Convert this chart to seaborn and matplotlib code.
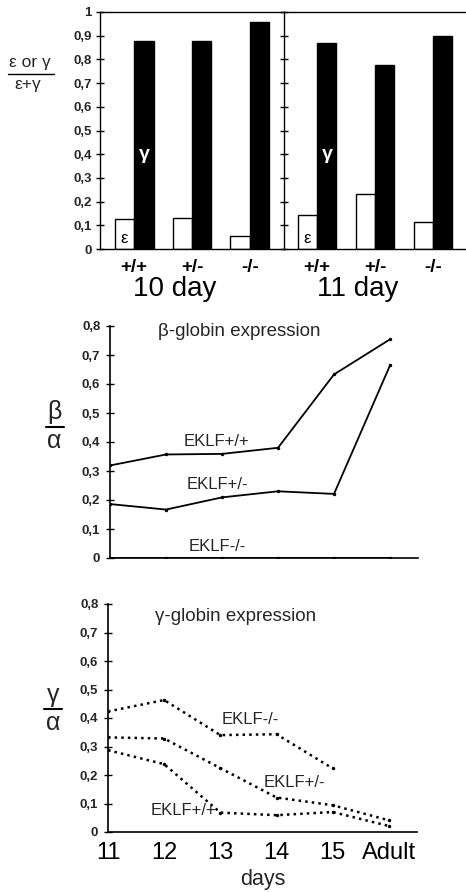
import numpy as np
import pandas as pd
import matplotlib
matplotlib.use("Agg")
import matplotlib.pyplot as plt
import seaborn as sns
from matplotlib.lines import Line2D

sns.set_theme(style="white")
plt.rcParams['font.family'] = ['Liberation Sans', 'DejaVu Sans']

# ---------------- data ----------------
genotypes = ["+/+", "+/-", "-/-"]
eps_10 = [0.127, 0.131, 0.055]
gam_10 = [0.877, 0.877, 0.958]
eps_11 = [0.144, 0.233, 0.114]
gam_11 = [0.869, 0.775, 0.898]

days = ["11", "12", "13", "14", "15", "Adult"]
beta_wt = [0.319, 0.357, 0.359, 0.380, 0.633, 0.754]
beta_het = [0.186, 0.167, 0.209, 0.230, 0.221, 0.664]
beta_ko = [0.0, 0.0, 0.0, 0.0, 0.0, 0.0]
gamma_ko = [0.423, 0.463, 0.340, 0.343, 0.223, np.nan]
gamma_het = [0.332, 0.328, 0.224, 0.121, 0.094, 0.041]
gamma_wt = [0.287, 0.238, 0.068, 0.059, 0.070, 0.021]

ytick_bar = [0, 0.1, 0.2, 0.3, 0.4, 0.5, 0.6, 0.7, 0.8, 0.9, 1.0]
ytick_bar_lbl = ["0", "0,1", "0,2", "0,3", "0,4", "0,5", "0,6", "0,7", "0,8", "0,9", "1"]
ytick_line = [0, 0.1, 0.2, 0.3, 0.4, 0.5, 0.6, 0.7, 0.8]
ytick_line_lbl = ["0", "0,1", "0,2", "0,3", "0,4", "0,5", "0,6", "0,7", "0,8"]

W, H = 466, 892
fig = plt.figure(figsize=(W / 100, H / 100), dpi=100)
fig.patch.set_facecolor("white")

def fr(x0, y_top, x1, y_bot):
    return [x0 / W, 1 - y_bot / H, (x1 - x0) / W, (y_bot - y_top) / H]

ax1 = fig.add_axes(fr(100, 12, 284, 249))
ax2 = fig.add_axes(fr(284, 12, 466, 249))

def bars(ax, eps, gam, xlim):
    df = pd.DataFrame({
        "genotype": genotypes * 2,
        "iso": ["e"] * 3 + ["g"] * 3,
        "val": list(eps) + list(gam),
    })
    sns.barplot(data=df, x="genotype", y="val", hue="iso", order=genotypes,
                hue_order=["e", "g"], palette={"e": "white", "g": "black"},
                edgecolor="black", linewidth=1.0, width=0.67, ax=ax,
                legend=False, saturation=1)
    ax.set_xlim(*xlim)
    ax.set_ylim(0, 1)
    ax.set_xlabel("")
    ax.set_ylabel("")
    for s in ["left", "top", "bottom"]:
        ax.spines[s].set_visible(True)
        ax.spines[s].set_color("black")
        ax.spines[s].set_linewidth(1.0)
    ax.spines["right"].set_visible(False)
    ax.set_yticks(ytick_bar)
    ax.tick_params(axis="y", left=True, direction="inout", length=6, width=1,
                   color="black", pad=3)
    ax.tick_params(axis="x", length=0, pad=7, colors="black")
    for lbl in ax.get_xticklabels():
        lbl.set_fontsize(13.5)
        lbl.set_fontweight("bold")
    ax.text(-0.17, 0.045, "ε", ha="center", va="center", fontsize=12, color="black")
    ax.text(0.17, 0.4, "γ", ha="center", va="center", fontsize=14,
            color="white", fontweight="bold")

bars(ax1, eps_10, gam_10, (-0.59, 2.59))
bars(ax2, eps_11, gam_11, (-0.57, 2.57))
ax1.set_yticklabels(ytick_bar_lbl, fontsize=9.5, fontweight="bold")
ax2.set_yticklabels([])
ax1.set_xlabel("10 day", fontsize=20, labelpad=0, color="black")
ax2.set_xlabel("11 day", fontsize=20, labelpad=0, color="black")
ax1.xaxis.set_label_coords((175 - 100) / 184, -(289 - 249) / 237, transform=ax1.transAxes)
ax2.xaxis.set_label_coords((358 - 284) / 182, -(289 - 249) / 237, transform=ax2.transAxes)
ax1.xaxis.label.set_va("center")
ax2.xaxis.label.set_va("center")

# fraction y-label for top panel
fig.text(30 / W, 1 - 63 / H, "ε or γ", ha="center", va="center", fontsize=12.5)
fig.add_artist(Line2D([8 / W, 54 / W], [1 - 74 / H, 1 - 74 / H], color="black", lw=1))
fig.text(28 / W, 1 - 84 / H, "ε+γ", ha="center", va="center", fontsize=12.5)

# ---------------- line panels ----------------
def line_panel(ax, series, style):
    for vals in series:
        df = pd.DataFrame({"day": days, "val": vals}).dropna()
        sns.lineplot(data=df, x="day", y="val", ax=ax, color="black",
                     linestyle=style, linewidth=1.3 if style == "-" else 1.8,
                     marker="o", markersize=2.5, markeredgewidth=0, sort=False)
    ax.set_xlim(0, 5.5)
    ax.set_ylim(0, 0.8)
    ax.set_xlabel("")
    ax.set_ylabel("")
    for s in ["left", "bottom"]:
        ax.spines[s].set_visible(True)
        ax.spines[s].set_color("black")
        ax.spines[s].set_linewidth(1.2)
    ax.spines["right"].set_visible(False)
    ax.spines["top"].set_visible(False)
    ax.set_yticks(ytick_line)
    ax.set_yticklabels(ytick_line_lbl, fontsize=9.5, fontweight="bold")
    ax.tick_params(axis="y", left=True, direction="inout", length=6, width=1,
                   color="black", pad=4)

ax3 = fig.add_axes(fr(110, 326, 418, 558))
line_panel(ax3, [beta_wt, beta_het, beta_ko], "-")
ax3.tick_params(axis="x", length=0, labelbottom=False)
ax3.text(2.3, 0.78, "β-globin expression", ha="center", va="center", fontsize=13.5)
ax3.text(1.91, 0.40, "EKLF+/+", ha="center", va="center", fontsize=12)
ax3.text(1.91, 0.255, "EKLF+/-", ha="center", va="center", fontsize=12)
ax3.text(1.91, 0.04, "EKLF-/-", ha="center", va="center", fontsize=12)
fig.text(54 / W, 1 - 412 / H, "β", ha="center", va="center", fontsize=18)
fig.add_artist(Line2D([46 / W, 64 / W], [1 - 427 / H, 1 - 427 / H], color="black", lw=1.5))
fig.text(54 / W, 1 - 441 / H, "α", ha="center", va="center", fontsize=18)

ax4 = fig.add_axes(fr(108, 604, 417, 832))
line_panel(ax4, [gamma_ko, gamma_het, gamma_wt], ":")
ax4.tick_params(axis="x", length=0, labelsize=17, pad=7, colors="black")
ax4.set_xlabel("days", fontsize=15.5, labelpad=4)
ax4.text(2.27, 0.755, "γ-globin expression", ha="center", va="center", fontsize=13.5)
ax4.text(2.54, 0.394, "EKLF-/-", ha="center", va="center", fontsize=12)
ax4.text(3.32, 0.172, "EKLF+/-", ha="center", va="center", fontsize=12)
ax4.text(1.34, 0.074, "EKLF+/+", ha="center", va="center", fontsize=12)
fig.text(53 / W, 1 - 695 / H, "γ", ha="center", va="center", fontsize=18)
fig.add_artist(Line2D([44 / W, 62 / W], [1 - 709 / H, 1 - 709 / H], color="black", lw=1.5))
fig.text(53 / W, 1 - 723 / H, "α", ha="center", va="center", fontsize=18)

fig.savefig("out.png", dpi=100, facecolor="white")
